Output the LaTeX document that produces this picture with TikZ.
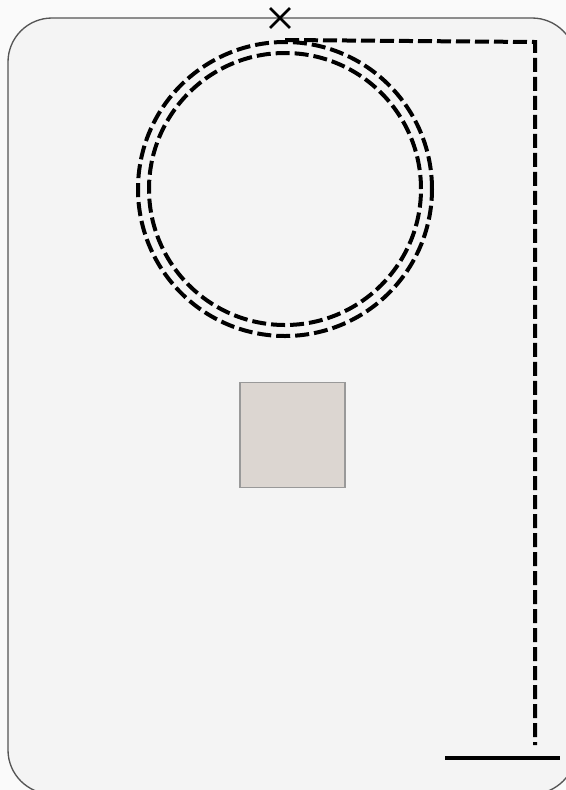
\documentclass[tikz,border=0pt]{standalone}
\usetikzlibrary{shapes.misc}
\definecolor{outside}{HTML}{FAFAFA}
\definecolor{panel}{HTML}{F4F4F4}
\definecolor{panelline}{HTML}{555555}
\definecolor{boxfill}{HTML}{DCD6D1}
\definecolor{boxline}{HTML}{999999}
\tikzset{
  dashring/.style={circle, draw=black, line width=3pt, dash pattern=on 10.5pt off 3.75pt, inner sep=0pt},
  wire/.style={draw=black, line width=3pt, dash pattern=on 10.5pt off 3.75pt},
  groundline/.style={draw=black, line width=3.2pt},
  xmark/.style={cross out, draw=black, line width=1.9pt, minimum size=13pt, inner sep=0pt},
  graybox/.style={rectangle, draw=boxline, fill=boxfill, line width=0.8pt, minimum size=78.75pt, inner sep=0pt}
}
\begin{document}
\begin{tikzpicture}[x=0.75pt,y=-0.75pt]
\useasboundingbox (0,0) rectangle (566,790);
\fill[outside] (0,0) rectangle (566,790);
\begin{scope}
\clip (0,0) rectangle (566,790);
\draw[rounded corners=33pt, fill=panel, draw=panelline, line width=1pt] (8,18) rectangle (576,794);
\end{scope}
\node[dashring, minimum size=220.5pt] (outer) at (285,189) {};
\node[dashring, minimum size=204pt] (inner) at (285,189) {};
\node[graybox] (box) at (292.5,435) {};
\node[xmark] (x) at (280,18) {};
\coordinate (corner) at (535,42);
\coordinate (bottom) at (535,745);
\coordinate (gl) at (445,758);
\coordinate (gr) at (560,758);
\draw[wire] (outer.north) -- (corner) -- (bottom);
\draw[groundline] (gl) -- (gr);
\end{tikzpicture}
\end{document}
